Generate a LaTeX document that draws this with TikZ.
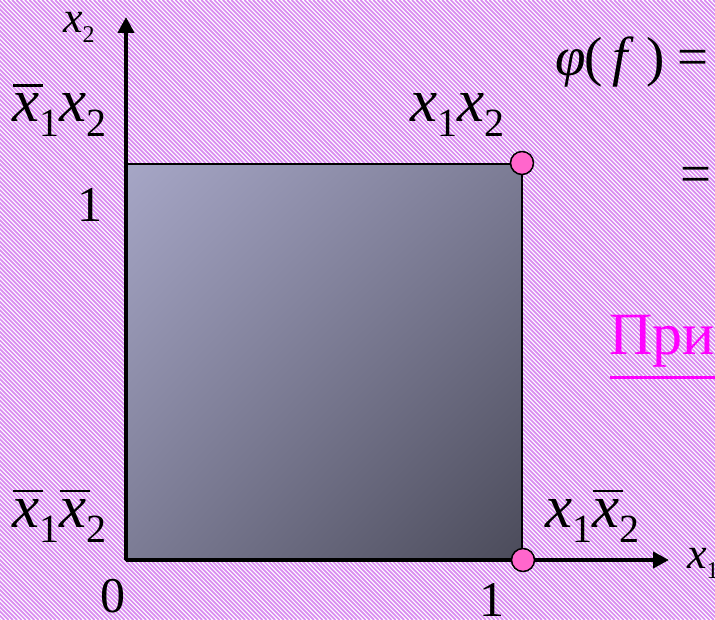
\documentclass[tikz,border=0pt]{standalone}
\usepackage{fontspec}
\setmainfont{Liberation Serif}
\usetikzlibrary{arrows.meta,shadings}
\definecolor{bgstripe}{HTML}{D98CF0}
\definecolor{pinkdot}{HTML}{FF66CC}
\definecolor{magtext}{HTML}{FF00FF}
\definecolor{sqA}{HTML}{A6A6C6}
\definecolor{sqB}{HTML}{7C7C95}
\definecolor{sqC}{HTML}{4B4B5A}
\newcommand\vx{\textit{x}}
\newcommand\subs[1]{\raisebox{-15pt}{\fontsize{40}{40}\selectfont #1}}
\newcommand\ssubs[1]{\raisebox{-10pt}{\fontsize{24}{24}\selectfont #1}}
\newcommand\xbar{\rlap{\hspace*{1pt}\raisebox{35pt}{\rule{30pt}{2.5pt}}}\textit{x}}
\begin{document}
\begin{tikzpicture}[x=1pt,y=-1pt,
  lbl/.style={inner sep=0pt,anchor=base west,font=\fontsize{61}{61}\selectfont},
  num/.style={inner sep=0pt,font=\fontsize{50}{50}\selectfont},
  small/.style={inner sep=0pt,anchor=base west,font=\fontsize{44}{44}\selectfont},
  eqn/.style={inner sep=0pt,anchor=base west,font=\fontsize{55}{55}\selectfont},
  axis/.style={line width=4pt,-{Triangle[length=16pt,width=16pt]}},
  dot/.style={circle,draw=black,line width=1.5pt,fill=pinkdot,minimum size=23pt,inner sep=0pt}]
\useasboundingbox (0,0) rectangle (715,620);
\fill[white] (0,0) rectangle (715,620);
\clip (0,0) rectangle (715,620);
\foreach \c in {-620,-615.7,...,720} \draw[bgstripe,line width=1.7pt] (\c,0) -- (\c+620,620);
% square
\shade[upper left=sqA, upper right=sqB, lower left=sqB, lower right=sqC] (126,164) rectangle (522,560);
\node[draw=black,line width=2pt,minimum width=396pt,minimum height=396pt,inner sep=0pt] (sq) at (324,362) {};
% axes
\coordinate (o) at (126,560);
\coordinate (ytip) at (126,17);
\coordinate (xtip) at (669,560);
\draw[axis] (o) -- (ytip);
\draw[axis] (o) -- (xtip);
% dots
\node[dot] (d11) at (522,163) {};
\node[dot] (d10) at (523,560) {};
% labels
\node[small] (lx2) at (63,33) {\vx\ssubs{2}};
\node[small] (lx1) at (687,568) {\vx\ssubs{1}};
\node[lbl] (l01) at (12,122) {\xbar\subs{1}\vx\subs{2}};
\node[lbl] (l11) at (410,122) {\vx\subs{1}\vx\subs{2}};
\node[lbl] (l00) at (12,527) {\xbar\subs{1}\xbar\subs{2}};
\node[lbl] (l10) at (545,527) {\vx\subs{1}\xbar\subs{2}};
\node[num] (oney) at (90,205) {1};
\node[num] (zero) at (113,596) {0};
\node[num] (onex) at (492,600) {1};
% formula
\node[eqn] (phi) at (555,76) {\textit{φ}};
\node[eqn] (lp) at (584,76) {(};
\node[eqn] (ff) at (612,76) {\textit{f}};
\node[eqn] (rp) at (646,76) {)};
\node[eqn] (eq1) at (677,76) {=};
\node[eqn] (eq2) at (680,193) {=};
% example
\node[inner sep=0pt,anchor=base west,text=magtext,font=\fontsize{60}{60}\selectfont] (pri) at (609,355) {При};
\coordinate (ul1) at (610,377.5);
\coordinate (ul2) at (720,377.5);
\draw[magtext,line width=3pt] (ul1) -- (ul2);
\end{tikzpicture}
\end{document}
